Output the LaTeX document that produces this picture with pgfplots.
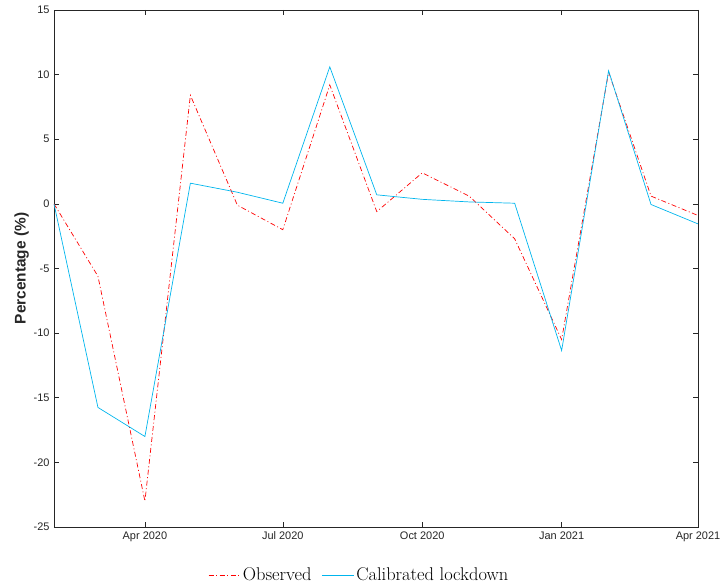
\documentclass[border=0pt]{standalone}
\usepackage{fontspec}
\usepackage{pgfplots}
\pgfplotsset{compat=1.18}
\usetikzlibrary{calc}
\newfontfamily\arial{Liberation Sans}
\definecolor{mcyan}{rgb}{0.0,0.71,0.93}
\definecolor{axgray}{rgb}{0.15,0.15,0.15}
\begin{document}
\begin{tikzpicture}
\begin{axis}[
  scale only axis,
  width=644bp, height=517bp,
  xmin=0, xmax=425, ymin=-25, ymax=15,
  xtick={60,151,243,335,425},
  xticklabels={Apr 2020,Jul 2020,Oct 2020,Jan 2021,Apr 2021},
  ytick={-25,-20,...,15},
  tick align=inside,
  major tick length=5bp,
  axis line style={axgray, line width=0.5pt},
  every tick/.style={axgray, line width=0.5pt},
  ticklabel style={font=\arial\fontsize{11}{13}\selectfont, text=axgray},
  /pgf/number format/assume math mode=true,
  xticklabel style={yshift=-1bp},
  yticklabel style={xshift=-1bp},
  ylabel={\arial\bfseries Percentage (\%)},
  ylabel style={font=\fontsize{15.5}{17}\selectfont, text=axgray, yshift=-2bp},
  legend style={draw=none, fill=none, at={(axis description cs:0.474,-0.093)}, anchor=center,
    legend columns=2, font=\fontsize{18.5}{20}\selectfont,
    /tikz/every even column/.append style={column sep=8bp}},
  legend cell align=left,
  legend image code/.code={\draw[#1] (0bp,0bp) -- (32bp,0bp);},
]
\addplot[red, line width=0.7pt, dash pattern=on 5bp off 2.5bp on 1bp off 2.5bp] coordinates {
(0,0) (29,-5.6) (60,-23.0) (90,8.4) (121,-0.1) (151,-2.0) (182,9.2) (213,-0.6) (243,2.4) (274,0.6) (304,-2.7) (335,-10.5) (366,10.2) (394,0.6) (425,-0.9)};
\addlegendentry{Observed}
\addplot[mcyan, line width=0.7pt] coordinates {
(0,0) (29,-15.75) (60,-18.0) (90,1.6) (121,0.9) (151,0.05) (182,10.6) (213,0.7) (243,0.35) (274,0.15) (304,0.05) (335,-11.35) (366,10.3) (394,-0.05) (425,-1.55)};
\addlegendentry{Calibrated lockdown}
\coordinate (bl) at (rel axis cs:0,0);
\coordinate (tr) at (rel axis cs:1,1);
\end{axis}
\pgfresetboundingbox
\path[use as bounding box] ($(bl)+(-54bp,-61bp)$) rectangle ($(tr)+(22bp,10bp)$);
\end{tikzpicture}
\end{document}
